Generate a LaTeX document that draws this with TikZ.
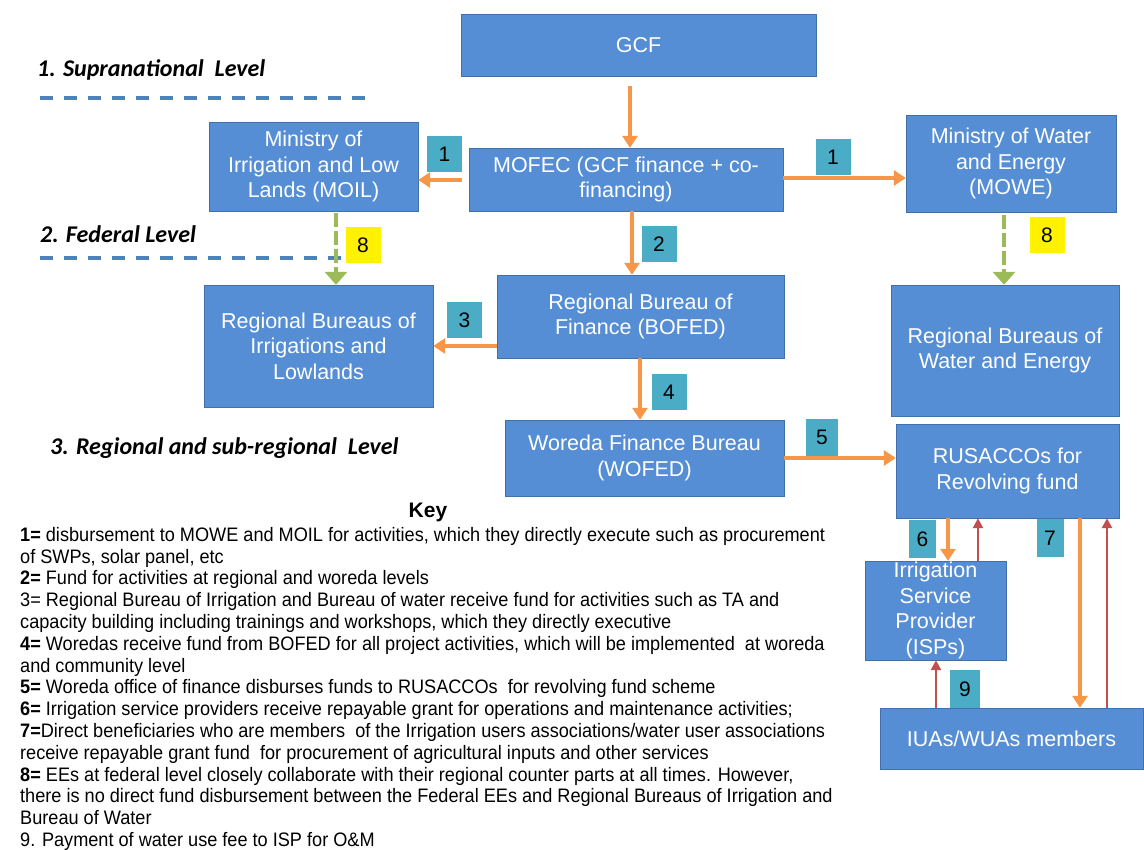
\documentclass[tikz,border=0pt]{standalone}
\usepackage{fontspec}
\setmainfont{Liberation Sans}
\newfontfamily\levelfont{Carlito}
\newfontfamily\keyfont[FakeStretch=0.93]{Liberation Sans}
\usetikzlibrary{arrows.meta}

\definecolor{boxblue}{RGB}{85,142,213}
\definecolor{boxedge}{RGB}{65,113,170}
\definecolor{tagteal}{RGB}{75,172,198}
\definecolor{fundorange}{RGB}{247,150,70}
\definecolor{payred}{RGB}{192,80,77}
\definecolor{linkgreen}{RGB}{155,187,89}
\definecolor{levelblue}{RGB}{79,129,189}

\tikzset{
  body/.style={draw=boxedge, fill=boxblue, text=white, align=center, inner sep=0pt,
    font=\fontsize{21.5}{25.5}\selectfont},
  tag/.style={fill=tagteal, minimum width=35pt, minimum height=36pt, inner sep=0pt,
    font=\fontsize{21}{24}\selectfont},
  tageight/.style={tag, fill=yellow},
  fund/.style={draw=fundorange, line width=3.5pt, -{Triangle[length=12pt,width=15pt]}},
  payback/.style={draw=payred, line width=2.5pt, -{Triangle[length=10pt,width=10pt]}},
  link/.style={draw=linkgreen, line width=4.5pt, dash pattern=on 14pt off 4pt,
    -{Triangle[length=13pt,width=22pt]}},
  levelline/.style={draw=levelblue, line width=3.5pt, dash pattern=on 13pt off 11pt},
  level/.style={anchor=west, inner sep=0pt, font=\levelfont\bfseries\itshape\fontsize{24}{28}\selectfont}
}

\begin{document}
\begin{tikzpicture}[x=1pt,y=-1pt]
    \useasboundingbox (0,0) rectangle (1144,850);

    \coordinate (L1a) at (40,98);
    \coordinate (L1b) at (372,98);
    \coordinate (L2a) at (40,258);
    \coordinate (L2b) at (380,258);

    \coordinate (f0) at (630,0);
    \coordinate (f1) at (0,180);
    \coordinate (f2) at (0,178);
    \coordinate (f3) at (632,0);
    \coordinate (f4) at (0,346);
    \coordinate (f5) at (640,0);
    \coordinate (f6) at (0,458);
    \coordinate (f7) at (948,0);
    \coordinate (f8) at (1080,0);
    \coordinate (r1) at (978,0);
    \coordinate (r2) at (1107,0);
    \coordinate (r3) at (936,0);
    \coordinate (g1) at (336,0);
    \coordinate (g2) at (1004,0);

    \draw[levelline] (L1a) -- (L1b);
    \draw[levelline] (L2a) -- (L2b);

    \node[body, minimum width=355pt, minimum height=62pt] (gcf) at (638.5,45) {GCF};
    \node[body, minimum width=209pt, minimum height=89pt] (moil) at (313.5,166.5) {Ministry of\\Irrigation and Low\\Lands (MOIL)};
    \node[body, minimum width=314pt, minimum height=63pt] (mofec) at (626,179.5) {MOFEC (GCF finance + co-\\financing)};
    \node[body, minimum width=210pt, minimum height=97pt] (mowe) at (1011,163.5) {Ministry of Water\\and Energy\\(MOWE)};
    \node[body, minimum width=229pt, minimum height=122pt] (rbil) at (318.5,346) {Regional Bureaus of\\Irrigations and\\Lowlands};
    \node[body, minimum width=287pt, minimum height=83pt] (bofed) at (640.5,316.5) {Regional Bureau of\\Finance (BOFED)};
    \node[body, minimum width=228pt, minimum height=131pt] (rbwe) at (1005,350.5) {Regional Bureaus of\\Water and Energy};
    \node[body, minimum width=279pt, minimum height=76pt] (wofed) at (644.5,458) {Woreda Finance Bureau\\(WOFED)};
    \node[body, minimum width=223pt, minimum height=94pt] (rusacco) at (1007.5,471) {RUSACCOs for\\Revolving fund};
    \node[body, minimum width=141pt, minimum height=99pt] (isp) at (935.5,610.5) {Irrigation\\Service\\Provider\\(ISPs)};
    \node[body, minimum width=263pt, minimum height=61pt] (iua) at (1011.5,738.5) {IUAs/WUAs members};

    \draw[fund, shorten <=10pt] (gcf.south -| f0) -- (mofec.north -| f0);
    \draw[fund, shorten <=7pt] (mofec.west |- f1) -- (moil.east |- f1);
    \draw[fund] (mofec.east |- f2) -- (mowe.west |- f2);
    \draw[fund] (mofec.south -| f3) -- (bofed.north -| f3);
    \draw[fund] (bofed.west |- f4) -- (rbil.east |- f4);
    \draw[fund] (bofed.south -| f5) -- (wofed.north -| f5);
    \draw[fund] (wofed.east |- f6) -- (rusacco.west |- f6);
    \draw[fund] (rusacco.south -| f7) -- (isp.north -| f7);
    \draw[fund] (rusacco.south -| f8) -- (iua.north -| f8);

    \draw[payback] (isp.north -| r1) -- (rusacco.south -| r1);
    \draw[payback] (iua.north -| r2) -- (rusacco.south -| r2);
    \draw[payback] (iua.north -| r3) -- (isp.south -| r3);

    \draw[link, shorten <=2pt] (moil.south -| g1) -- (rbil.north -| g1);
    \draw[link, shorten <=3pt] (mowe.south -| g2) -- (rbwe.north -| g2);

%labels
    \node[tag] (t1a) at (444.5,154.5) {1};
    \node[tag] (t1b) at (833,157) {1};
    \node[tag] (t2) at (659,244.5) {2};
    \node[tag] (t3) at (464.5,320) {3};
    \node[tag] (t4) at (669,392) {4};
    \node[tag, minimum width=32pt] (t5) at (822,437.5) {5};
    \node[tag, minimum width=27pt, minimum height=38pt] (t6) at (922.5,539) {6};
    \node[tag, minimum width=27pt, minimum height=38pt] (t7) at (1050,538) {7};
    \node[tag, minimum width=30pt, minimum height=38pt] (t9) at (965,689) {9};
    \node[tageight] (t8a) at (363,245.5) {8};
    \node[tageight] (t8b) at (1047,235.5) {8};

    \node[level] (lev1) at (37,70) {1. Supranational\ \ Level};
    \node[level] (lev2) at (40,234) {2. Federal Level};
    \node[level] (lev3) at (50,448) {3. Regional and sub-regional\ \ Level};

    \node[font=\bfseries\fontsize{21}{24}\selectfont, inner sep=0pt] (keyhead) at (428,512) {Key};
    \node[anchor=north west, align=left, inner sep=0pt, font=\keyfont\fontsize{19.5}{21.8}\selectfont] (keytext) at (20,527) {%
      \textbf{1=} disbursement to MOWE and MOIL for activities, which they directly execute such as procurement\\
      of SWPs, solar panel, etc\\
      \textbf{2=} Fund for activities at regional and woreda levels\\
      3= Regional Bureau of Irrigation and Bureau of water receive fund for activities such as TA and\\
      capacity building including trainings and workshops, which they directly executive\\
      \textbf{4=} Woredas receive fund from BOFED for all project activities, which will be implemented\ \ at woreda\\
      and community level\\
      \textbf{5=} Woreda office of finance disburses funds to RUSACCOs\ \ for revolving fund scheme\\
      \textbf{6=} Irrigation service providers receive repayable grant for operations and maintenance activities;\\
      \textbf{7=}Direct beneficiaries who are members\ \ of the Irrigation users associations/water user associations\\
      receive repayable grant fund\ \ for procurement of agricultural inputs and other services\\
      \textbf{8=} EEs at federal level closely collaborate with their regional counter parts at all times. However,\\
      there is no direct fund disbursement between the Federal EEs and Regional Bureaus of Irrigation and\\
      Bureau of Water\\
      9. Payment of water use fee to ISP for O\&M};

\end{tikzpicture}
\end{document}
